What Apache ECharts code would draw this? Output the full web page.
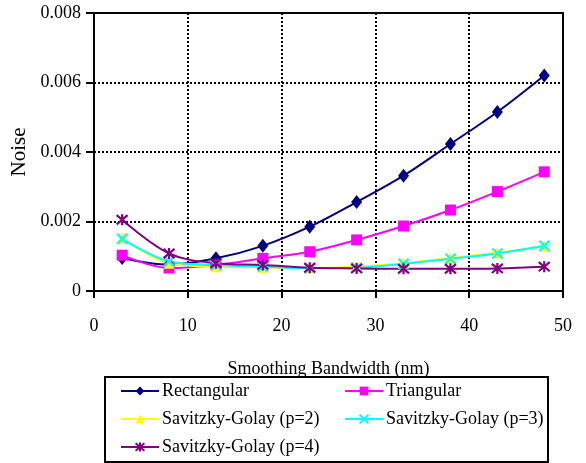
<!DOCTYPE html>
<html>
<head>
<meta charset="utf-8">
<script src="https://cdn.jsdelivr.net/npm/echarts@6/dist/echarts.min.js"></script>
<style>
  html, body { margin: 0; padding: 0; background: #fff; }
  #chart { width: 586px; height: 463px; }
</style>
</head>
<body>
<div id="chart"></div>
<script>
// Smoothing bandwidth (nm) at which each filter was evaluated
var bandwidths = [3, 8, 13, 18, 23, 28, 33, 38, 43, 48];

// Residual noise for each smoothing filter
var rectangular = [0.00095, 0.00076, 0.00094, 0.0013, 0.00185, 0.00256, 0.00332, 0.00423, 0.00515, 0.0062];
var triangular  = [0.00103, 0.00066, 0.00075, 0.00094, 0.00113, 0.00147, 0.00187, 0.00233, 0.00286, 0.00343];
var sgP2        = [0.00152, 0.0008, 0.0007, 0.00068, 0.00066, 0.0007, 0.0008, 0.00095, 0.0011, 0.00128];
var sgP3        = [0.0015, 0.00085, 0.00075, 0.0007, 0.00066, 0.00067, 0.00078, 0.00093, 0.00108, 0.0013];
var sgP4        = [0.00205, 0.00108, 0.0008, 0.00075, 0.00067, 0.00065, 0.00064, 0.00064, 0.00065, 0.0007];

var seriesNames = ['Rectangular', 'Triangular', 'Savitzky-Golay (p=2)', 'Savitzky-Golay (p=3)', 'Savitzky-Golay (p=4)'];
var yTickLabels = ['0', '0.002', '0.004', '0.006', '0.008'];
var xTickLabels = ['0', '10', '20', '30', '40', '50'];

var FONT = '"Liberation Serif", "Times New Roman", serif';
var crossPath = 'path://M0,0L10,10M10,0L0,10';
var starPath = 'path://M0,0L10,10M10,0L0,10M5,-1L5,11';

function pairs(values) {
  return bandwidths.map(function (b, i) { return [b, values[i]]; });
}

function lineSeries(name, values, color, symbol, size, stroked) {
  return {
    name: name,
    type: 'line',
    data: pairs(values),
    smooth: 0.35,
    symbol: symbol,
    symbolSize: size,
    showAllSymbol: true,
    lineStyle: { color: color, width: 2 },
    itemStyle: stroked
      ? { color: color, borderColor: color, borderWidth: 2.2 }
      : { color: color, borderWidth: 0 },
    emphasis: { disabled: true },
    animation: false
  };
}

function legendAt(name, left, top) {
  return {
    data: [name],
    left: left,
    top: top,
    itemWidth: 38,
    itemHeight: 11,
    itemGap: 0,
    padding: 0,
    selectedMode: false,
    textStyle: { fontFamily: FONT, fontSize: 18, color: '#000', padding: [0, 0, 0, -2] }
  };
}

var chart = echarts.init(document.getElementById('chart'), null, { renderer: 'canvas' });
chart.setOption({
  backgroundColor: '#fff',
  animation: false,
  grid: {
    left: 94, right: 23, top: 13, bottom: 172,
    show: true, borderColor: '#000', borderWidth: 2, backgroundColor: 'transparent'
  },
  xAxis: {
    type: 'value', min: 0, max: 50, interval: 10,
    name: 'Smoothing Bandwidth (nm)', nameLocation: 'middle', nameGap: 69,
    nameTextStyle: { fontFamily: FONT, fontSize: 18, color: '#000' },
    axisLine: { lineStyle: { color: '#000', width: 2 } },
    axisTick: { show: true, length: 7, lineStyle: { color: '#000', width: 2 } },
    axisLabel: {
      fontFamily: FONT, fontSize: 18, color: '#000', margin: 26,
      formatter: function (v) { return xTickLabels[Math.round(v / 10)]; }
    },
    splitLine: { show: true, lineStyle: { color: '#000', width: 2, type: [2, 2] } }
  },
  yAxis: {
    type: 'value', min: 0, max: 0.008, interval: 0.002,
    name: 'Noise', nameLocation: 'middle', nameGap: 61,
    nameTextStyle: { fontFamily: FONT, fontSize: 21, color: '#000' },
    axisLine: { show: true, lineStyle: { color: '#000', width: 2 } },
    axisTick: { show: true, length: 8, lineStyle: { color: '#000', width: 2 } },
    axisLabel: {
      fontFamily: FONT, fontSize: 18, color: '#000', margin: 13,
      formatter: function (v) { return yTickLabels[Math.round(v / 0.002)]; }
    },
    splitLine: { show: true, lineStyle: { color: '#000', width: 2, type: [2, 2] } }
  },
  legend: [
    legendAt(seriesNames[0], 120, 382),
    legendAt(seriesNames[1], 344, 382),
    legendAt(seriesNames[2], 120, 410),
    legendAt(seriesNames[3], 344, 410),
    legendAt(seriesNames[4], 120, 438)
  ],
  graphic: [{
    type: 'rect',
    shape: { x: 105, y: 377, width: 443, height: 85 },
    style: { fill: 'none', stroke: '#000', lineWidth: 2 },
    silent: true,
    z: 100
  }],
  series: [
    lineSeries(seriesNames[0], rectangular, '#000080', 'diamond', [11, 14], false),
    lineSeries(seriesNames[1], triangular, '#FF00FF', 'rect', 11, false),
    lineSeries(seriesNames[2], sgP2, '#FFFF00', 'triangle', 11, false),
    lineSeries(seriesNames[3], sgP3, '#00FFFF', crossPath, 10, true),
    lineSeries(seriesNames[4], sgP4, '#800080', starPath, 11, true)
  ]
});
</script>
</body>
</html>
